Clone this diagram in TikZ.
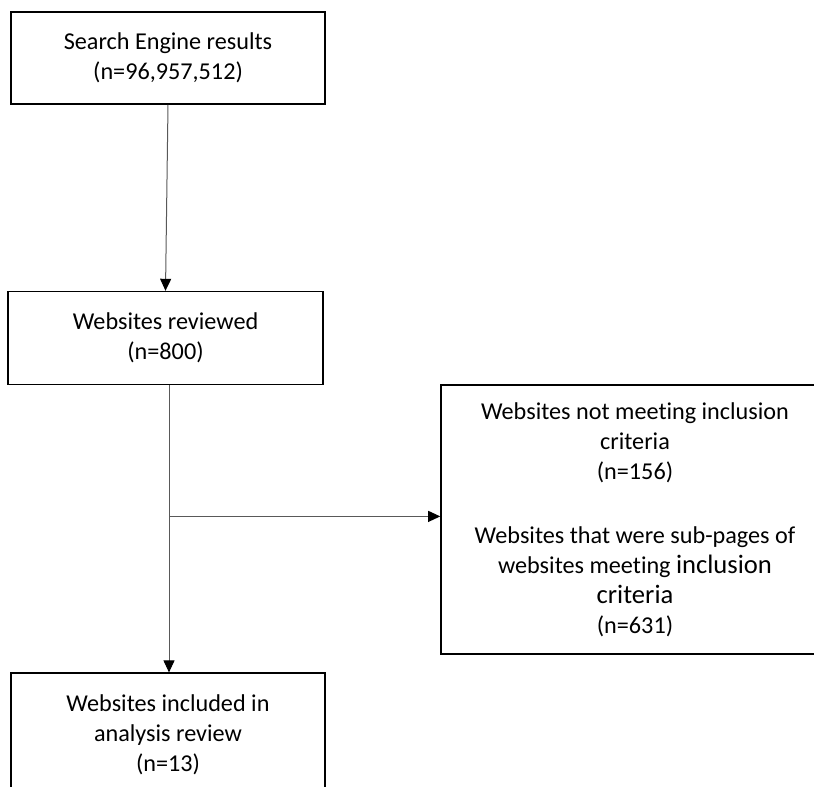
\documentclass[tikz,border=0pt]{standalone}
\usepackage{fontspec}
\setmainfont[Ligatures={NoCommon,NoContextual}]{Carlito}
\usetikzlibrary{positioning, arrows.meta}
\tikzset{
	>={Triangle[length=12pt,width=11pt,color=black]}, % filled black arrow heads
	flowbox/.style={draw=black, line width=1.6pt, align=center, inner sep=0pt,
		minimum width=314pt, minimum height=92pt,
		font=\fontsize{24.2}{30}\selectfont}, % the boxes of the chart
	flowline/.style={->, draw=black!65, line width=1pt}, % the connectors
}
\newcommand{\bigword}[1]{{\fontsize{26.6}{30}\selectfont #1}}

\begin{document}
\begin{tikzpicture}[x=1pt, y=1pt]
		\path[use as bounding box, clip] (0,0) rectangle (814,-787);
		\node[flowbox] (search) at (168,-58) {Search Engine results\\(n=96,957,512)};
		\node[flowbox, below=186pt of search, xshift=-2.5pt, minimum width=315pt, minimum height=93pt] (reviewed) {Websites reviewed\\(n=800)};
		\node[flowbox, below=287pt of reviewed, xshift=2.5pt, minimum height=124pt] (included) {Websites included in\\analysis review\\(n=13)};
		\node[flowbox, minimum width=388pt, minimum height=269pt] (excluded) at (635,-519.5)
			{Websites not meeting inclusion\\criteria\\(n=156)\\[34pt]Websites that were sub-pages of\\websites meeting \bigword{inclusion}\\\bigword{criteria}\\(n=631)};
		
		\coordinate (split) at ([xshift=3.5pt,yshift=-131pt]reviewed.south);
		
		\draw[flowline] (search.south) -- (reviewed.north);
		\draw[flowline] ([xshift=3.5pt]reviewed.south) -- ([xshift=1pt]included.north);
		\draw[flowline] (split) -- (split -| excluded.west);
	\end{tikzpicture}
\end{document}
